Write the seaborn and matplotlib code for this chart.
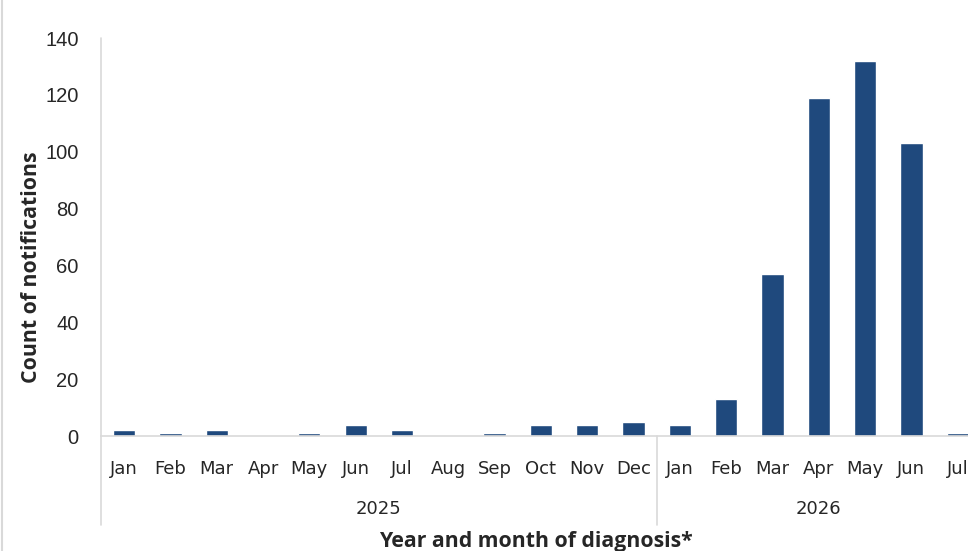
import pandas as pd
import seaborn as sns
import matplotlib.pyplot as plt

sns.set_style('white')
plt.rcParams['font.family'] = ['Liberation Sans Narrow', 'DejaVu Sans']

# data
months = ['Jan', 'Feb', 'Mar', 'Apr', 'May', 'Jun', 'Jul', 'Aug', 'Sep', 'Oct', 'Nov', 'Dec',
          'Jan', 'Feb', 'Mar', 'Apr', 'May', 'Jun', 'Jul']
years = ['2025'] * 12 + ['2026'] * 7
counts = [2, 1, 2, 0, 1, 4, 2, 0, 1, 4, 4, 5,
          4, 13, 57, 119, 132, 103, 1]

df = pd.DataFrame({'month': months, 'year': years, 'count': counts})
df['key'] = df['year'] + '-' + df['month']

fig = plt.figure(figsize=(9.68, 5.51), dpi=100)
ax = fig.add_axes([0.1043, 0.2087, 0.909, 0.7223])

sns.barplot(data=df, x='key', y='count', order=list(df['key']), color='#1f497d',
            saturation=1, width=0.48, ax=ax)

ax.set_xlim(-0.5, len(df) - 0.5)
ax.set_ylim(0, 140)
ax.set_yticks(range(0, 141, 20))
ax.set_xticks(range(len(df)))
ax.set_xticklabels(months)
ax.tick_params(axis='x', length=0, pad=17, labelsize=13)
ax.tick_params(axis='y', length=0, pad=16, labelsize=14.5)
for lbl in ax.get_yticklabels():
    lbl.set_fontfamily(['Liberation Sans', 'DejaVu Sans'])

sns.despine(ax=ax, top=True, right=True, left=True, bottom=False)
ax.spines['bottom'].set_color('#d9d9d9')
ax.spines['bottom'].set_linewidth(1.2)

# multi-level category axis lines
trans = ax.get_xaxis_transform()
ax.plot([-0.5, -0.5], [1, -0.224], transform=trans, color='#d9d9d9', lw=1.2, clip_on=False)
ax.plot([11.5, 11.5], [0, -0.224], transform=trans, color='#d9d9d9', lw=1.2, clip_on=False)

# year labels
year_pos = {'2025': 5.5, '2026': 15.0}
for yr, mid in year_pos.items():
    ax.text(mid, -0.183, yr, transform=trans, ha='center', va='center', fontsize=13)

ax.set_xlabel('')
ax.set_ylabel('')
ax.text(-0.079, 0.425, 'Count of notifications', transform=ax.transAxes, rotation=90,
        ha='center', va='center', fontsize=15.3, fontweight='bold',
        fontfamily=['Open Sans', 'DejaVu Sans'])
ax.text(0.494, -0.264, 'Year and month of diagnosis*', transform=ax.transAxes,
        ha='center', va='center', fontsize=15.3, fontweight='bold',
        fontfamily=['Open Sans', 'DejaVu Sans'])

# outer chart border on the left
fig.add_artist(plt.Line2D([0.002, 0.002], [0, 1], color='#d9d9d9', lw=1.5))

fig.savefig('out.png', dpi=100)
